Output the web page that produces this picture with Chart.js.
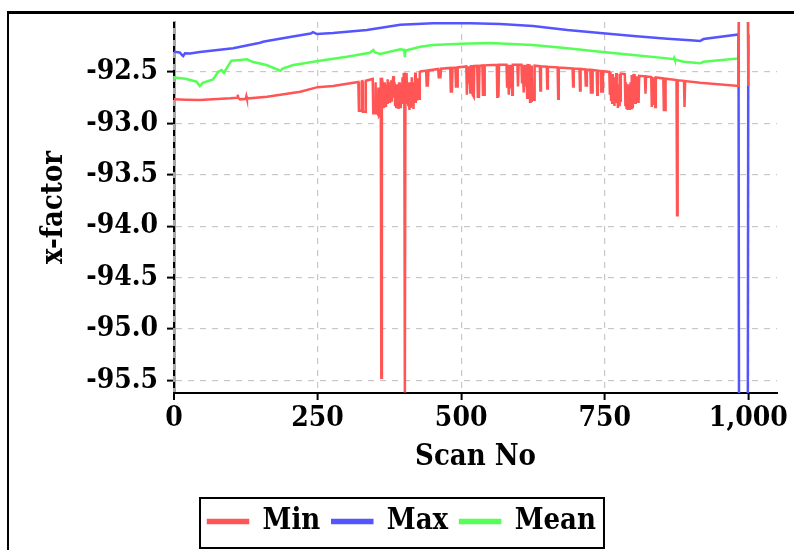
<!DOCTYPE html>
<html><head><meta charset="utf-8">
<script src="https://cdn.jsdelivr.net/npm/chart.js@4.4.1/dist/chart.umd.min.js"></script>
<style>
html,body{margin:0;padding:0;background:#fff;overflow:hidden;width:794px;height:550px;}
#frame{position:absolute;left:7px;top:11px;width:900px;height:700px;border-top:3px solid #000;border-left:2px solid #000;}
#wrap{position:absolute;left:0;top:0;width:794px;height:550px;}
</style></head><body>
<div id="frame"></div>
<div id="wrap"><canvas id="c" width="794" height="550"></canvas></div>
<script>
// ---- data: [scan no, x-factor] ----
const seriesNames = ['Min', 'Max', 'Mean'];
const xTicks = [0, 250, 500, 750, 1000];
const yTicks = [-92.5, -93.0, -93.5, -94.0, -94.5, -95.0, -95.5];

const minSeries = [
[0,-92.766],[20,-92.77],[45,-92.773],[98,-92.756],[110,-92.75],[111,-92.722],[112,-92.752],[115,-92.766],
[125,-92.76],[126,-92.735],[127,-92.758],[162,-92.741],[220,-92.692],[250,-92.647],[277,-92.636],[321,-92.597],
[322,-92.877],[326,-92.877],[327,-92.592],[328,-92.59],[329,-92.887],[333,-92.887],[334,-92.585],
[346,-92.567],[347,-92.90],[350,-92.90],[351,-92.6],[352,-92.88],[355,-92.91],[356,-92.65],[357,-92.92],[359,-92.9],
[360,-92.556],[361,-95.475],[362,-92.555],[363,-92.6],[364,-92.84],[365,-92.7],[366,-92.83],[367,-92.6],[368,-92.81],
[369,-92.84],[370,-92.62],[371,-92.8],[372,-92.57],[373,-92.79],[374,-92.6],[375,-92.79],[376,-92.7],[377,-92.78],
[378,-92.58],[379,-92.79],[380,-92.62],[382,-92.54],[383,-92.75],[384,-92.6],[385,-92.82],[386,-92.7],[387,-92.84],
[388,-92.62],[389,-92.8],[390,-92.75],[391,-92.86],[392,-92.6],[393,-92.78],[394,-92.84],[395,-92.62],[396,-92.8],
[397,-92.74],[398,-92.55],[399,-92.78],[400,-92.52],[401,-92.519],[402,-95.62],[403,-92.518],[405,-92.52],[406,-92.8],
[407,-92.6],[408,-92.82],[409,-92.75],[410,-92.87],[411,-92.6],[412,-92.85],[413,-92.79],[414,-92.55],[415,-92.82],
[416,-92.7],[417,-92.86],[418,-92.6],[419,-92.76],[420,-92.505],[421,-92.8],[422,-92.62],[423,-92.78],[424,-92.56],
[425,-92.73],[426,-92.6],[427,-92.76],[428,-92.5],[429,-92.495],
[439,-92.486],[440,-92.63],[442,-92.63],[443,-92.484],
[460,-92.47],[461,-92.55],[464,-92.55],[465,-92.468],
[481,-92.46],[482,-92.69],[484,-92.69],[485,-92.459],
[490,-92.456],[491,-92.64],[493,-92.64],[494,-92.455],
[509,-92.446],[510,-92.72],[511,-92.445],[513,-92.61],[514,-92.444],[516,-92.7],[517,-92.443],
[519,-92.442],[520,-92.72],[522,-92.74],[523,-92.441],
[528,-92.44],[529,-92.74],[531,-92.74],[532,-92.439],
[537,-92.436],[538,-92.72],[540,-92.72],[541,-92.435],
[562,-92.43],[563,-92.74],[564,-92.45],[565,-92.74],[566,-92.43],
[579,-92.43],[580,-92.64],[581,-92.43],[583,-92.72],[584,-92.43],[586,-92.66],[587,-92.43],[589,-92.72],[590,-92.43],
[598,-92.43],[599,-92.64],[600,-92.43],
[605,-92.43],[606,-92.60],[607,-92.43],[609,-92.70],[610,-92.43],[612,-92.64],[613,-92.43],[615,-92.75],[616,-92.432],
[619,-92.434],[620,-92.79],[621,-92.6],[622,-92.78],[623,-92.436],[624,-92.77],[627,-92.77],[628,-92.438],
[637,-92.443],[638,-92.68],[639,-92.444],
[649,-92.448],[650,-92.66],[651,-92.449],
[668,-92.455],[669,-92.76],[670,-92.456],
[694,-92.465],[695,-92.64],[696,-92.466],
[706,-92.47],[707,-92.68],[708,-92.47],
[716,-92.475],[717,-92.63],[718,-92.63],[719,-92.476],
[725,-92.478],[726,-92.70],[728,-92.70],[729,-92.48],
[736,-92.485],[737,-92.72],[738,-92.486],
[743,-92.49],[744,-92.69],[746,-92.69],[747,-92.492],
[758,-92.499],[759,-92.72],[760,-92.5],[761,-92.77],[762,-92.6],[763,-92.8],[764,-92.52],[765,-92.78],[766,-92.65],
[767,-92.83],[768,-92.55],[769,-92.76],[770,-92.51],[771,-92.8],[772,-92.62],[773,-92.85],[774,-92.7],[775,-92.82],
[776,-92.52],[777,-92.78],[778,-92.515],
[785,-92.52],[786,-92.82],[787,-92.6],[788,-92.86],[789,-92.7],[790,-92.87],[791,-92.62],[792,-92.86],[793,-92.75],
[794,-92.87],[795,-92.6],[796,-92.85],[797,-92.53],[798,-92.84],[799,-92.55],[800,-92.529],[802,-92.53],[803,-92.8],
[804,-92.6],[805,-92.79],[806,-92.54],[807,-92.78],[808,-92.6],[809,-92.8],[810,-92.537],
[820,-92.542],[821,-92.71],[822,-92.543],
[831,-92.549],[832,-92.84],[833,-92.6],[834,-92.82],[835,-92.55],[836,-92.8],[837,-92.6],[838,-92.84],[839,-92.553],
[852,-92.562],[853,-92.87],[855,-92.87],[856,-92.565],
[875,-92.578],[876,-93.893],[877,-92.58],
[888,-92.586],[889,-92.84],[890,-92.588],
[916,-92.604],[983,-92.636],[984,-91.5],[999,-91.5],[1000,-92.636]
];

const maxSeries = [
[0,-92.302],[10,-92.31],[14,-92.335],[16,-92.345],[19,-92.318],[28,-92.32],[45,-92.305],[103,-92.269],
[150,-92.215],[155,-92.205],[162,-92.198],[202,-92.159],[238,-92.125],[242,-92.112],[249,-92.13],[277,-92.12],
[336,-92.091],[394,-92.039],[451,-92.026],[500,-92.023],[568,-92.032],[625,-92.052],[685,-92.091],[742,-92.12],
[800,-92.149],[859,-92.176],[899,-92.191],[916,-92.198],[922,-92.179],[983,-92.135],[984,-96.5],[999,-96.5],[1000,-92.135]
];

const meanSeries = [
[0,-92.552],[20,-92.565],[39,-92.594],[45,-92.636],[50,-92.604],[68,-92.571],[77,-92.497],[83,-92.481],[87,-92.507],
[95,-92.432],[100,-92.39],[115,-92.383],[127,-92.376],[138,-92.403],[161,-92.432],[185,-92.487],[190,-92.464],
[208,-92.432],[254,-92.39],[301,-92.351],[341,-92.312],[347,-92.286],[350,-92.31],[359,-92.325],[394,-92.279],
[401,-92.285],[402,-92.354],[403,-92.29],[429,-92.254],[451,-92.237],[500,-92.225],[550,-92.218],[625,-92.237],
[685,-92.269],[742,-92.302],[800,-92.334],[859,-92.367],[870,-92.375],[871,-92.362],[872,-92.378],[887,-92.4],
[916,-92.415],[922,-92.4],[983,-92.367],[984,-91.5],[999,-91.5],[1000,-92.367]
];

const colors = ['#ff5555', '#5555ff', '#55ff55'];
const FONT = "'DejaVu Serif Condensed', 'DejaVu Serif', serif";

const toXY = arr => arr.map(p => ({x: p[0], y: p[1]}));
const allSeries = [minSeries, maxSeries, meanSeries];

const legendFrame = {
  id: 'legendFrame',
  afterDraw(chart) {
    const hb = chart.legend.legendHitBoxes;
    if (!hb || !hb.length) return;
    let l = Infinity, r = -Infinity, t = Infinity, b = -Infinity;
    hb.forEach(h => { l = Math.min(l, h.left); r = Math.max(r, h.left + h.width); t = Math.min(t, h.top); b = Math.max(b, h.top + h.height); });
    const cy = (t + b) / 2;
    const ctx = chart.ctx;
    ctx.save();
    ctx.strokeStyle = '#000';
    ctx.lineWidth = 2;
    ctx.strokeRect(l - 8, cy - 23.5, (r - l) + 16, 50);
    ctx.restore();
  }
};

new Chart(document.getElementById('c'), {
  type: 'line',
  data: {
    datasets: allSeries.map((s, i) => ({
      label: seriesNames[i],
      data: toXY(s),
      borderColor: colors[i],
      backgroundColor: colors[i],
      borderWidth: 2.5,
      pointRadius: 0,
      tension: 0,
      fill: false
    }))
  },
  options: {
    responsive: false,
    animation: false,
    devicePixelRatio: 1,
    layout: { padding: { left: 27, top: 22, right: 17, bottom: 4 } },
    font: { family: FONT },
    plugins: {
      tooltip: { enabled: false },
      legend: {
        position: 'bottom',
        labels: {
          font: { family: FONT, size: 29, weight: 'bold' },
          color: '#000',
          boxWidth: 40,
          boxHeight: 3,
          padding: 12
        }
      }
    },
    scales: {
      x: {
        type: 'linear',
        min: 0,
        max: 1050,
        afterFit: s => { s.height = 157 - s.chart.legend.height - 4; },
        afterBuildTicks: s => { s.ticks = xTicks.map(v => ({ value: v })); },
        ticks: {
          maxRotation: 0,
          autoSkip: false,
          color: '#000',
          font: { family: FONT, size: 28, weight: 'bold' },
          padding: 2,
          callback: v => v.toLocaleString('en-US')
        },
        grid: {
          color: c => (c.tick && c.tick.value === 0) ? '#000' : '#c8c8c8',
          lineWidth: c => (c.tick && c.tick.value === 0) ? 2 : 1.2,
          tickColor: '#000',
          tickLength: 7,
          tickWidth: 2,
          tickBorderDash: []
        },
        border: { display: true, color: '#000', width: 2, dash: [6, 6] },
        title: {
          display: true,
          text: 'Scan No',
          color: '#000',
          font: { family: FONT, size: 29, weight: 'bold' },
          padding: { top: 0, bottom: 20 }
        }
      },
      y: {
        type: 'linear',
        min: -95.624,
        max: -92.013,
        afterFit: s => { s.width = 174 - 27; s.paddingTop = 0; s.paddingBottom = 0; },
        afterBuildTicks: s => { s.ticks = yTicks.map(v => ({ value: v })); },
        ticks: {
          color: '#000',
          font: { family: FONT, size: 28, weight: 'bold' },
          padding: 9,
          callback: v => v.toFixed(1)
        },
        grid: {
          color: '#c8c8c8',
          lineWidth: 1.2,
          tickColor: '#000',
          tickLength: 7,
          tickWidth: 2,
          tickBorderDash: []
        },
        border: { display: true, color: 'rgba(0,0,0,0.35)', width: 3, dash: [6, 6] },
        title: {
          display: true,
          text: 'x-factor',
          color: '#000',
          font: { family: FONT, size: 29, weight: 'bold' },
          padding: { top: 10, bottom: 0 }
        }
      }
    }
  },
  plugins: [legendFrame]
});
</script>
</body></html>
